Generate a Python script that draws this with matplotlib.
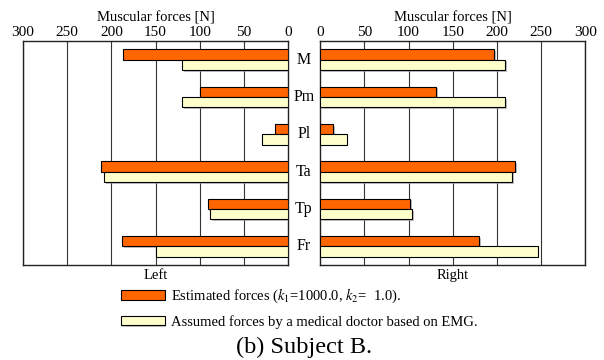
import matplotlib
matplotlib.use('Agg')
import matplotlib.pyplot as plt
import matplotlib.patheffects as pe
import numpy as np

plt.rcParams['font.family'] = 'Liberation Serif'
plt.rcParams['mathtext.fontset'] = 'stix'

muscles = ['M', 'Pm', 'Pl', 'Ta', 'Tp', 'Fr']
left_est = [187, 100, 15, 212, 91, 188]
left_doc = [120, 120, 30, 208, 88, 150]
right_est = [197, 131, 15, 221, 102, 180]
right_doc = [209, 209, 30, 217, 104, 246]
ticks = [0, 50, 100, 150, 200, 250, 300]

c_est = '#ff6600'
c_doc = '#ffffcc'

fig = plt.figure(figsize=(6.04, 3.60), dpi=100)
axl = fig.add_axes([0.038, 0.264, 0.439, 0.622])
axr = fig.add_axes([0.530, 0.264, 0.439, 0.622])

y = np.arange(len(muscles))
h = 0.28
shadow = [pe.SimplePatchShadow(offset=(1.2, -1.2), shadow_rgbFace='#999999', alpha=0.6), pe.Normal()]

for ax, est, doc, side in [(axl, left_est, left_doc, 'Left'), (axr, right_est, right_doc, 'Right')]:
    b1 = ax.barh(y - h / 2, est, height=h, color=c_est, edgecolor='black', linewidth=0.8, zorder=3)
    b2 = ax.barh(y + h / 2, doc, height=h, color=c_doc, edgecolor='black', linewidth=0.8, zorder=3)
    for bar in list(b1) + list(b2):
        bar.set_path_effects(shadow)
    ax.set_ylim(5.5, -0.5)
    ax.set_yticks([])
    ax.set_xticks(ticks)
    ax.xaxis.tick_top()
    ax.xaxis.set_label_position('top')
    ax.tick_params(axis='x', length=0, labelsize=11, pad=1.5)
    ax.set_xlabel('Muscular forces [N]', fontsize=10.5, labelpad=3)
    for t in ticks[1:]:
        ax.axvline(t, color='#333333', lw=0.8, zorder=1)
    for s in ax.spines.values():
        s.set_linewidth(1.0)
        s.set_color('#222222')
    ax.text(0.5, -0.02, side, transform=ax.transAxes, ha='center', va='top', fontsize=10.5)

axl.set_xlim(300, 0)
axr.set_xlim(0, 300)

for i, m in enumerate(muscles):
    fig.text(0.503, axl.transData.transform((0, i))[1] / fig.bbox.height, m,
             ha='center', va='center', fontsize=11.5)

fig.legend([b1, b2],
           ['Estimated forces ($\\mathit{k}_1$=1000.0, $\\mathit{k}_2$=  1.0).',
            'Assumed forces by a medical doctor based on EMG.'],
           loc='upper left', bbox_to_anchor=(0.2, 0.203), frameon=False,
           fontsize=10.5, handlelength=3.0, handleheight=0.6, handletextpad=0.45,
           labelspacing=0.65, borderpad=0, borderaxespad=0)

fig.text(0.503, 0.036, '(b) Subject B.', ha='center', va='center', fontsize=17.5)

fig.savefig('out.png', dpi=100)
